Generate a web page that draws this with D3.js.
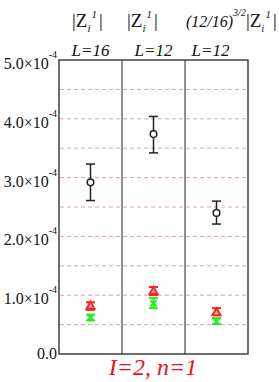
<!DOCTYPE html>
<html>
<head>
<meta charset="utf-8">
<script src="https://cdn.jsdelivr.net/npm/d3@7"></script>
</head>
<body style="margin:0; background:#fff">
<svg id="chart" width="279" height="382"></svg>
<script>
// values in units of 1e-4
const panels = ["L=16", "L=12", "L=12"];
const yTicks = [0, 1, 2, 3, 4, 5];
const gridLines = [0.5, 1, 1.5, 2, 2.5, 3, 3.5, 4, 4.5];

const blackVal = [2.92, 3.74, 2.40];
const blackLo = [2.61, 3.42, 2.21];
const blackHi = [3.23, 4.04, 2.60];

const redVal = [0.82, 1.07, 0.71];
const redLo = [0.75, 1.00, 0.66];
const redHi = [0.88, 1.14, 0.78];

const greenVal = [0.62, 0.86, 0.55];
const greenLo = [0.57, 0.78, 0.51];
const greenHi = [0.67, 0.95, 0.61];

const FONT = "Liberation Serif";
const svg = d3.select("#chart");

const x = d3.scaleBand().domain(d3.range(panels.length)).range([59, 248]).padding(0);
const y = d3.scaleLinear().domain([0, 5]).range([354, 60]);

// dashed grid
svg.selectAll(".grid")
  .data(gridLines)
  .enter()
  .append("line")
  .attr("class", "grid")
  .attr("x1", 60).attr("x2", 247)
  .attr("y1", d => y(d)).attr("y2", d => y(d))
  .attr("stroke", "#d8a6a6")
  .attr("stroke-width", 1)
  .attr("stroke-dasharray", "4,3");

// panel dividers
svg.selectAll(".divider")
  .data(d3.range(1, panels.length))
  .enter()
  .append("line")
  .attr("x1", d => x(d)).attr("x2", d => x(d))
  .attr("y1", y(5)).attr("y2", y(0))
  .attr("stroke", "#555")
  .attr("stroke-width", 1.3);

// frame
svg.append("rect")
  .attr("x", 59).attr("y", y(5))
  .attr("width", 189).attr("height", y(0) - y(5))
  .attr("fill", "none")
  .attr("stroke", "#333")
  .attr("stroke-width", 1.4);

// y tick labels
yTicks.forEach(t => {
  const txt = svg.append("text")
    .attr("x", 57)
    .attr("text-anchor", "end")
    .style("font-family", FONT)
    .attr("font-size", 16)
    .attr("fill", "#111");
  if (t === 0) {
    txt.attr("y", y(t) + 5).text("0.0");
  } else {
    txt.attr("y", y(t) + 9);
    txt.append("tspan").text(t.toFixed(1) + "\u00d710");
    txt.append("tspan").attr("font-size", 10).attr("dy", -11).text("-4");
  }
});

// panel labels
svg.selectAll(".plabel")
  .data(panels)
  .enter()
  .append("text")
  .attr("x", (d, i) => x(i) + x.bandwidth() / 2 + (i === 2 ? -6 : 0))
  .attr("y", 56)
  .attr("text-anchor", "middle")
  .style("font-family", FONT)
  .attr("font-size", 17)
  .attr("font-style", "italic")
  .attr("fill", "#111")
  .text(d => d);

// column headers
function zLabel(xpos, prefix) {
  const t = svg.append("text")
    .attr("x", xpos).attr("y", 27)
    .style("font-family", FONT)
    .attr("font-size", 19)
    .attr("fill", "#111");
  if (prefix) {
    t.append("tspan").attr("font-style", "italic").attr("font-size", 16).text("(12/16)");
    t.append("tspan").attr("font-style", "italic").attr("font-size", 10).attr("dy", -11).text("3/2");
    t.append("tspan").attr("dy", 11).text("|Z");
  } else {
    t.append("tspan").text("|Z");
  }
  t.append("tspan").attr("font-style", "italic").attr("font-size", 11).attr("dy", 5).text("i");
  t.append("tspan").attr("font-style", "italic").attr("font-size", 11).attr("dy", -14).attr("dx", 1).text("1");
  t.append("tspan").attr("dy", 9).attr("dx", 2).text("|");
}
zLabel(72, false);
zLabel(127, false);
zLabel(186, true);

// error bars
function errBars(vals, lo, hi, color, width) {
  const g = svg.append("g").attr("stroke", color).attr("stroke-width", width);
  vals.forEach((v, i) => {
    const cx = x(i) + x.bandwidth() / 2;
    g.append("line").attr("x1", cx).attr("x2", cx).attr("y1", y(lo[i])).attr("y2", y(hi[i]));
    g.append("line").attr("x1", cx - 4.5).attr("x2", cx + 4.5).attr("y1", y(lo[i])).attr("y2", y(lo[i]));
    g.append("line").attr("x1", cx - 4.5).attr("x2", cx + 4.5).attr("y1", y(hi[i])).attr("y2", y(hi[i]));
  });
}

errBars(blackVal, blackLo, blackHi, "#222", 1.5);
errBars(greenVal, greenLo, greenHi, "#22ee22", 2);
errBars(redVal, redLo, redHi, "#ff2020", 2);

// black circles
svg.selectAll(".circ")
  .data(blackVal)
  .enter()
  .append("circle")
  .attr("cx", (d, i) => x(i) + x.bandwidth() / 2)
  .attr("cy", d => y(d))
  .attr("r", 3.3)
  .attr("fill", "#fff")
  .attr("stroke", "#222")
  .attr("stroke-width", 1.5);

// green crosses
svg.selectAll(".cross")
  .data(greenVal)
  .enter()
  .append("path")
  .attr("transform", (d, i) => `translate(${x(i) + x.bandwidth() / 2},${y(d)})`)
  .attr("d", "M-3,-3L3,3M-3,3L3,-3")
  .attr("stroke", "#22ee22")
  .attr("stroke-width", 2);

// red triangles
svg.selectAll(".tri")
  .data(redVal)
  .enter()
  .append("path")
  .attr("transform", (d, i) => `translate(${x(i) + x.bandwidth() / 2},${y(d)})`)
  .attr("d", "M0,-4L4,3L-4,3Z")
  .attr("fill", "#ffb0b0")
  .attr("stroke", "#ff2020")
  .attr("stroke-width", 2);

// title
svg.append("text")
  .attr("x", 153).attr("y", 375)
  .attr("text-anchor", "middle")
  .style("font-family", FONT)
  .attr("font-size", 24)
  .attr("font-style", "italic")
  .attr("fill", "#ee1111")
  .text("I=2, n=1");
</script>
</body>
</html>
